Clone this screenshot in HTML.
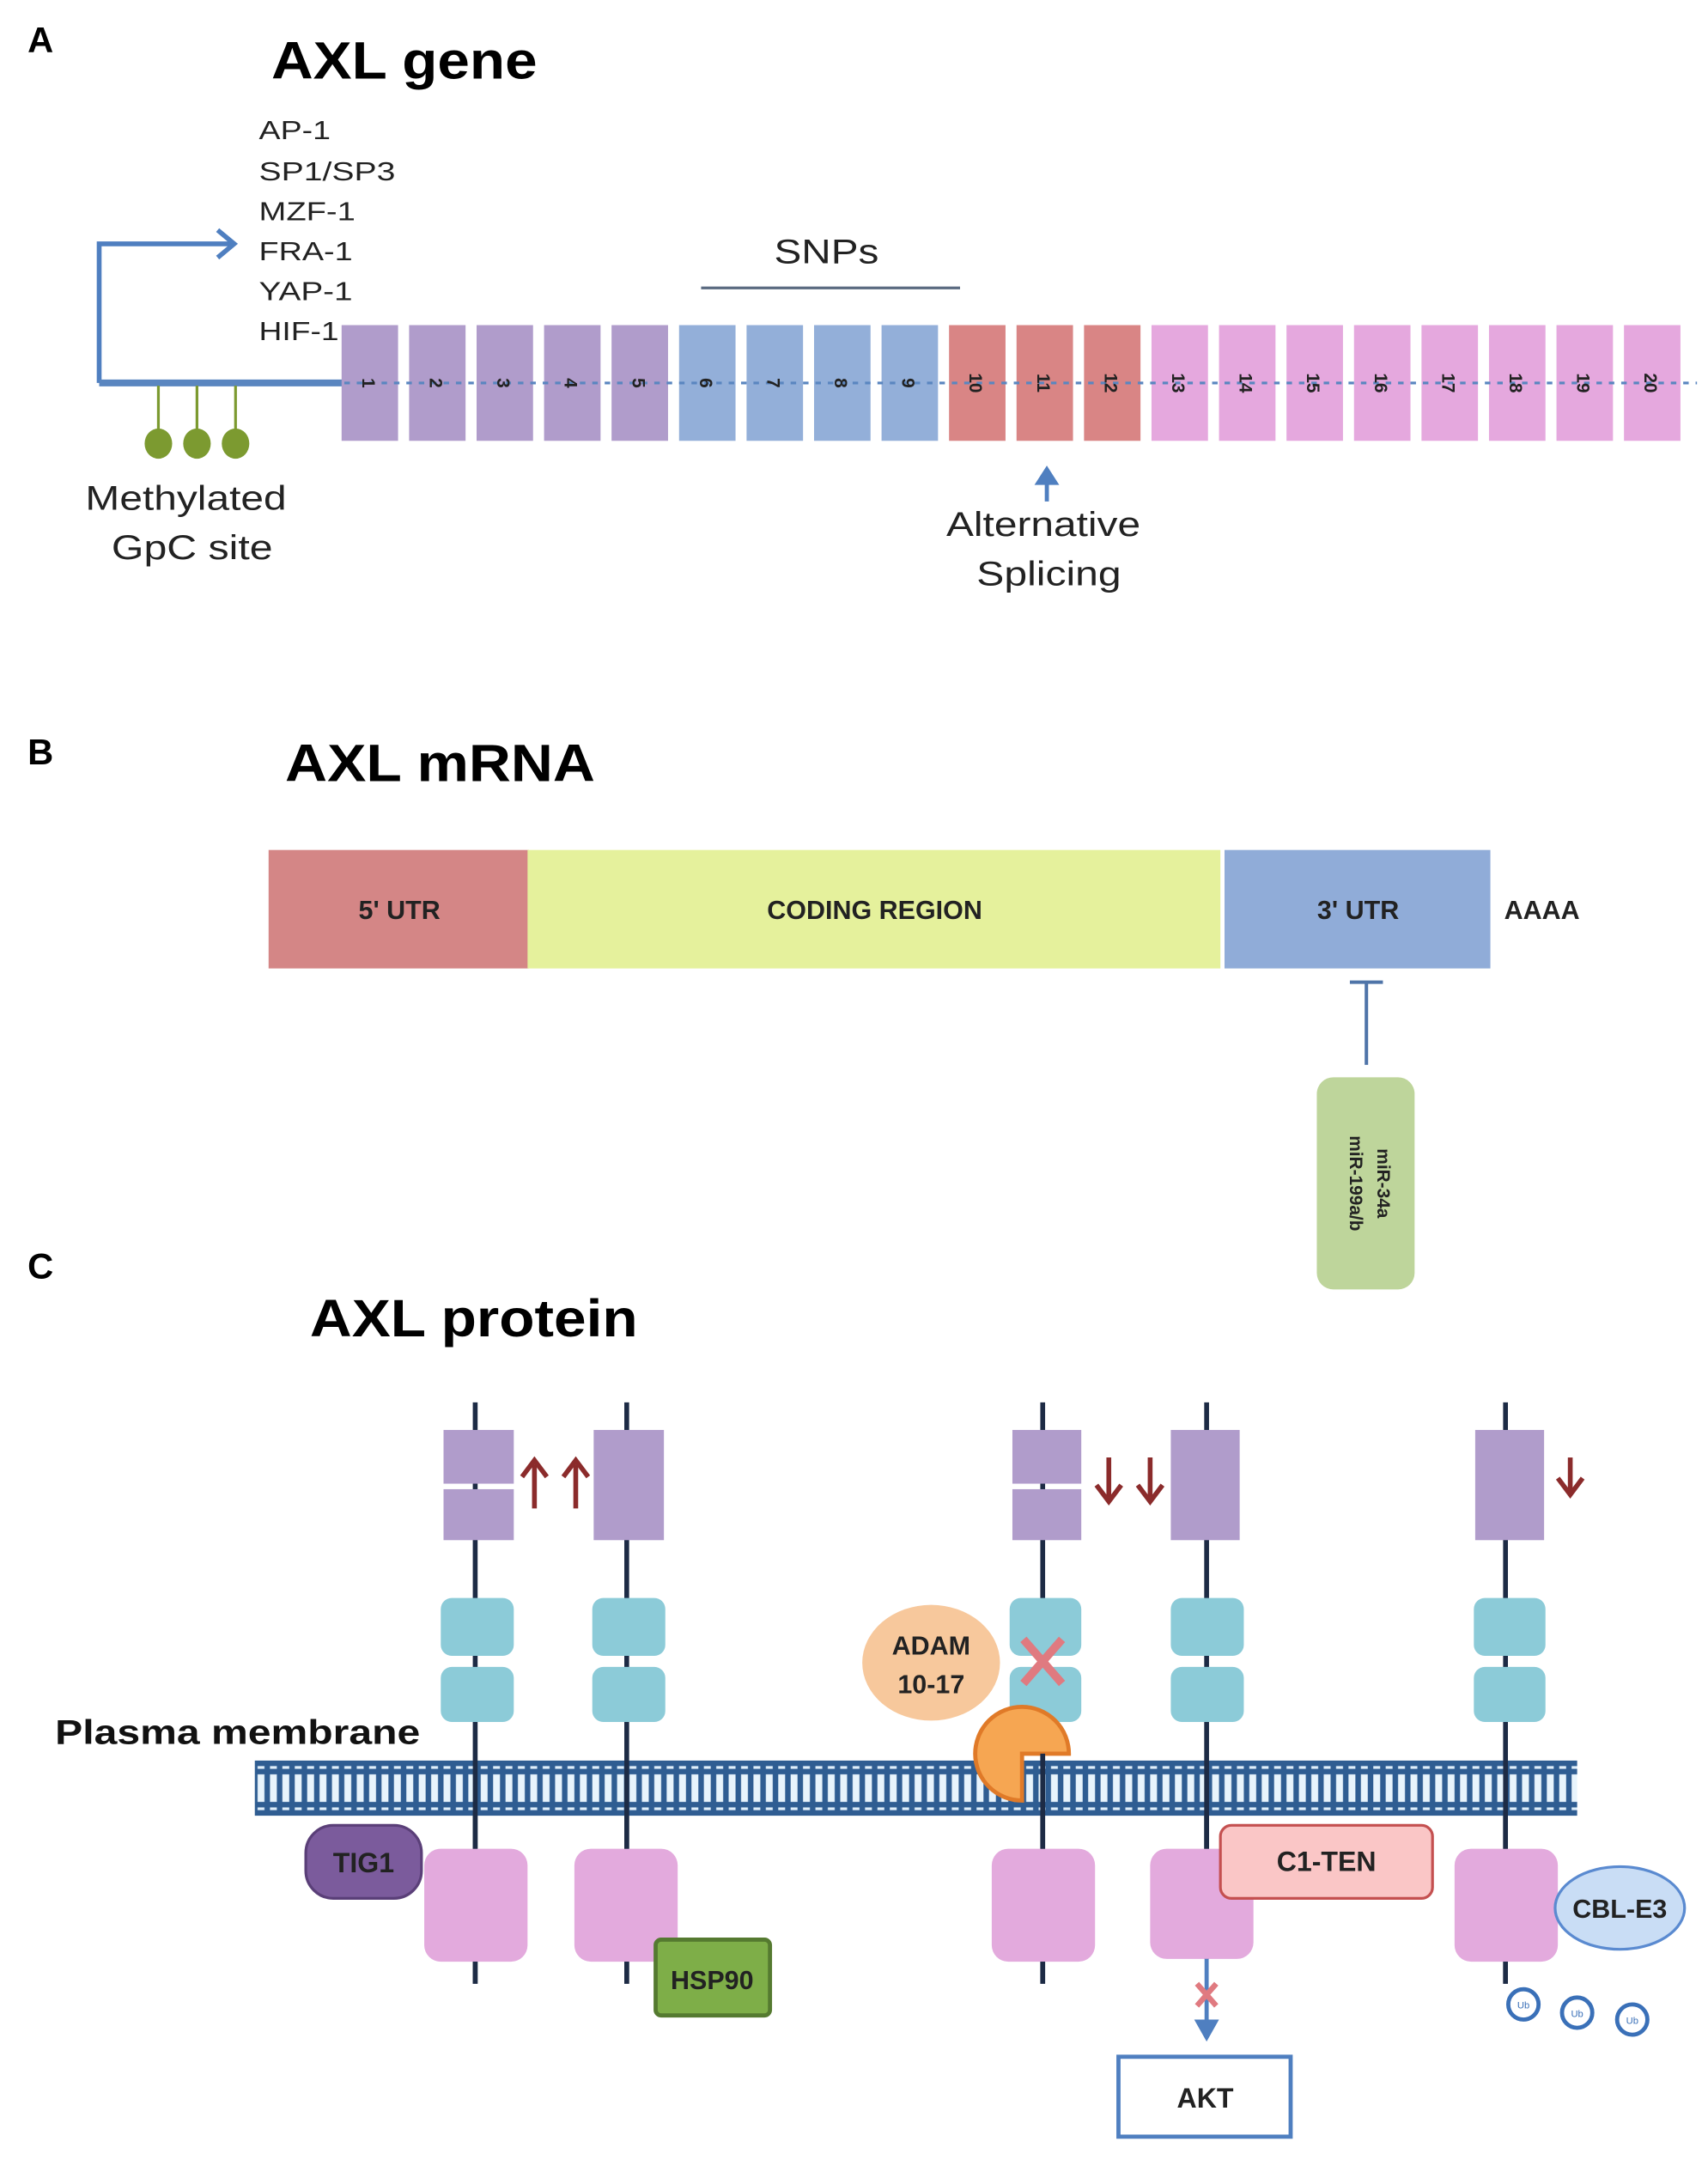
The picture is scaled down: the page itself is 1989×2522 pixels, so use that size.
<!DOCTYPE html>
<html><head><meta charset="utf-8"><style>
html,body{margin:0;padding:0;background:#fff}
svg{display:block}
text{font-family:"Liberation Sans",sans-serif}
</style></head><body>
<svg width="1989" height="2522" viewBox="0 0 1240 1572.3" preserveAspectRatio="none" xmlns="http://www.w3.org/2000/svg">
<defs>
<pattern id="mem" x="185" y="1278" width="9" height="40" patternUnits="userSpaceOnUse">
<rect width="9" height="40" fill="#2f5d92"/>
<rect x="2" y="4" width="5" height="2" fill="#dfeefa"/>
<rect x="2" y="34" width="5" height="2" fill="#dfeefa"/>
<rect x="2" y="10" width="5" height="20" fill="#e8f4fc"/>
</pattern>
</defs>
<!-- A -->
<text x="20" y="38" font-size="26" font-weight="bold">A</text>
<text x="197" y="57" font-size="38" font-weight="bold" textLength="193" lengthAdjust="spacingAndGlyphs">AXL gene</text>
<g font-size="19" fill="#222">
<text x="188" y="101" textLength="52" lengthAdjust="spacingAndGlyphs">AP-1</text>
<text x="188" y="131" textLength="99" lengthAdjust="spacingAndGlyphs">SP1/SP3</text>
<text x="188" y="160" textLength="70" lengthAdjust="spacingAndGlyphs">MZF-1</text>
<text x="188" y="189" textLength="68" lengthAdjust="spacingAndGlyphs">FRA-1</text>
<text x="188" y="218" textLength="68" lengthAdjust="spacingAndGlyphs">YAP-1</text>
<text x="188" y="247" textLength="58" lengthAdjust="spacingAndGlyphs">HIF-1</text>
</g>
<path d="M72 278 V177 H168" fill="none" stroke="#4f7fc0" stroke-width="3.5"/>
<path d="M158 167 L170 177 L158 187" fill="none" stroke="#4f7fc0" stroke-width="3.5"/>
<line x1="72" y1="278" x2="250" y2="278" stroke="#5a86c0" stroke-width="5"/>
<g stroke="#7c9a30" stroke-width="2"><line x1="115" y1="280" x2="115" y2="318"/><line x1="143" y1="280" x2="143" y2="318"/><line x1="171" y1="280" x2="171" y2="318"/></g>
<g fill="#7c9a30"><ellipse cx="115" cy="322" rx="10" ry="11"/><ellipse cx="143" cy="322" rx="10" ry="11"/><ellipse cx="171" cy="322" rx="10" ry="11"/></g>
<text x="62" y="370" font-size="25" fill="#222" textLength="146" lengthAdjust="spacingAndGlyphs">Methylated</text>
<text x="81" y="406" font-size="25" fill="#222" textLength="117" lengthAdjust="spacingAndGlyphs">GpC site</text>
<text x="562" y="191" font-size="25" fill="#222" textLength="76" lengthAdjust="spacingAndGlyphs">SNPs</text>
<line x1="509" y1="209" x2="697" y2="209" stroke="#5a6a80" stroke-width="2"/>
<g>
<rect x="248" y="236" width="41" height="84" fill="#b09ccb"/>
<rect x="297" y="236" width="41" height="84" fill="#b09ccb"/>
<rect x="346" y="236" width="41" height="84" fill="#b09ccb"/>
<rect x="395" y="236" width="41" height="84" fill="#b09ccb"/>
<rect x="444" y="236" width="41" height="84" fill="#b09ccb"/>
<rect x="493" y="236" width="41" height="84" fill="#93afd9"/>
<rect x="542" y="236" width="41" height="84" fill="#93afd9"/>
<rect x="591" y="236" width="41" height="84" fill="#93afd9"/>
<rect x="640" y="236" width="41" height="84" fill="#93afd9"/>
<rect x="689" y="236" width="41" height="84" fill="#d98585"/>
<rect x="738" y="236" width="41" height="84" fill="#d98585"/>
<rect x="787" y="236" width="41" height="84" fill="#d98585"/>
<rect x="836" y="236" width="41" height="84" fill="#e5a8de"/>
<rect x="885" y="236" width="41" height="84" fill="#e5a8de"/>
<rect x="934" y="236" width="41" height="84" fill="#e5a8de"/>
<rect x="983" y="236" width="41" height="84" fill="#e5a8de"/>
<rect x="1032" y="236" width="41" height="84" fill="#e5a8de"/>
<rect x="1081" y="236" width="41" height="84" fill="#e5a8de"/>
<rect x="1130" y="236" width="41" height="84" fill="#e5a8de"/>
<rect x="1179" y="236" width="41" height="84" fill="#e5a8de"/>
</g>
<line x1="250" y1="278" x2="1232" y2="278" stroke="#5a86c0" stroke-width="2" stroke-dasharray="4 5"/>
<g font-size="13" font-weight="bold" fill="#222">
<text transform="translate(263 278) rotate(90)" text-anchor="middle">1</text>
<text transform="translate(312 278) rotate(90)" text-anchor="middle">2</text>
<text transform="translate(361 278) rotate(90)" text-anchor="middle">3</text>
<text transform="translate(410 278) rotate(90)" text-anchor="middle">4</text>
<text transform="translate(459 278) rotate(90)" text-anchor="middle">5</text>
<text transform="translate(508 278) rotate(90)" text-anchor="middle">6</text>
<text transform="translate(557 278) rotate(90)" text-anchor="middle">7</text>
<text transform="translate(606 278) rotate(90)" text-anchor="middle">8</text>
<text transform="translate(655 278) rotate(90)" text-anchor="middle">9</text>
<text transform="translate(704 278) rotate(90)" text-anchor="middle">10</text>
<text transform="translate(753 278) rotate(90)" text-anchor="middle">11</text>
<text transform="translate(802 278) rotate(90)" text-anchor="middle">12</text>
<text transform="translate(851 278) rotate(90)" text-anchor="middle">13</text>
<text transform="translate(900 278) rotate(90)" text-anchor="middle">14</text>
<text transform="translate(949 278) rotate(90)" text-anchor="middle">15</text>
<text transform="translate(998 278) rotate(90)" text-anchor="middle">16</text>
<text transform="translate(1047 278) rotate(90)" text-anchor="middle">17</text>
<text transform="translate(1096 278) rotate(90)" text-anchor="middle">18</text>
<text transform="translate(1145 278) rotate(90)" text-anchor="middle">19</text>
<text transform="translate(1194 278) rotate(90)" text-anchor="middle">20</text>
</g>
<line x1="760" y1="364" x2="760" y2="342" stroke="#4f7fc0" stroke-width="3"/>
<path d="M751 352 L760 338 L769 352" fill="#4f7fc0"/>
<text x="687" y="389" font-size="25" fill="#222" textLength="141" lengthAdjust="spacingAndGlyphs">Alternative</text>
<text x="709" y="425" font-size="25" fill="#222" textLength="105" lengthAdjust="spacingAndGlyphs">Splicing</text>
<!-- B -->
<text x="20" y="555" font-size="26" font-weight="bold">B</text>
<text x="207" y="567" font-size="38" font-weight="bold" textLength="225" lengthAdjust="spacingAndGlyphs">AXL mRNA</text>
<rect x="195" y="617" width="189" height="86" fill="#d48686"/>
<rect x="383" y="617" width="503" height="86" fill="#e5f19c"/>
<rect x="889" y="617" width="193" height="86" fill="#90acd8"/>
<g font-size="19" font-weight="bold" fill="#222" text-anchor="middle">
<text x="290" y="667">5' UTR</text>
<text x="635" y="667">CODING REGION</text>
<text x="986" y="667">3' UTR</text>
</g>
<text x="1092" y="667" font-size="19" font-weight="bold" fill="#222">AAAA</text>
<line x1="992" y1="713" x2="992" y2="773" stroke="#4f74a8" stroke-width="2.5"/>
<line x1="980" y1="713" x2="1004" y2="713" stroke="#4f74a8" stroke-width="2.5"/>
<rect x="956" y="782" width="71" height="154" rx="12" fill="#bed59b"/>
<g font-size="13" font-weight="bold" fill="#222">
<text transform="translate(1000 859) rotate(90)" text-anchor="middle">miR-34a</text>
<text transform="translate(980 859) rotate(90)" text-anchor="middle">miR-199a/b</text>
</g>
<!-- C -->
<text x="20" y="928" font-size="26" font-weight="bold">C</text>
<text x="225" y="970" font-size="38" font-weight="bold" textLength="238" lengthAdjust="spacingAndGlyphs">AXL protein</text>
<text x="40" y="1266" font-size="25" font-weight="bold" fill="#111" textLength="265" lengthAdjust="spacingAndGlyphs">Plasma membrane</text>
<g stroke="#1d2b45" stroke-width="3.5">
<line x1="345" y1="1018" x2="345" y2="1440"/>
<line x1="455" y1="1018" x2="455" y2="1440"/>
<line x1="757" y1="1018" x2="757" y2="1440"/>
<line x1="876" y1="1018" x2="876" y2="1422"/>
<line x1="1093" y1="1018" x2="1093" y2="1440"/>
</g>
<g fill="#b09ccb">
<rect x="322" y="1038" width="51" height="39"/><rect x="322" y="1081" width="51" height="37"/>
<rect x="431" y="1038" width="51" height="80"/>
<rect x="735" y="1038" width="50" height="39"/><rect x="735" y="1081" width="50" height="37"/>
<rect x="850" y="1038" width="50" height="80"/>
<rect x="1071" y="1038" width="50" height="80"/>
</g>
<g fill="#8ccbd8">
<rect x="320" y="1160" width="53" height="42" rx="8"/><rect x="320" y="1210" width="53" height="40" rx="8"/>
<rect x="430" y="1160" width="53" height="42" rx="8"/><rect x="430" y="1210" width="53" height="40" rx="8"/>
<rect x="733" y="1160" width="52" height="42" rx="8"/><rect x="733" y="1210" width="52" height="40" rx="8"/>
<rect x="850" y="1160" width="53" height="42" rx="8"/><rect x="850" y="1210" width="53" height="40" rx="8"/>
<rect x="1070" y="1160" width="52" height="42" rx="8"/><rect x="1070" y="1210" width="52" height="40" rx="8"/>
</g>
<g stroke="#8b2b2b" stroke-width="3.5" fill="none">
<line x1="388" y1="1095" x2="388" y2="1063"/><path d="M379 1072 L388 1060 L397 1072"/>
<line x1="418" y1="1095" x2="418" y2="1063"/><path d="M409 1072 L418 1060 L427 1072"/>
<line x1="805" y1="1058" x2="805" y2="1087"/><path d="M796 1078 L805 1090 L814 1078"/>
<line x1="835" y1="1058" x2="835" y2="1087"/><path d="M826 1078 L835 1090 L844 1078"/>
<line x1="1140" y1="1058" x2="1140" y2="1082"/><path d="M1131 1073 L1140 1085 L1149 1073"/>
</g>
<g stroke="#e07a80" stroke-width="6"><line x1="743" y1="1190" x2="771" y2="1222"/><line x1="771" y1="1190" x2="743" y2="1222"/></g>
<ellipse cx="676" cy="1207" rx="50" ry="42" fill="#f7c89c"/>
<text x="676" y="1201" font-size="19" font-weight="bold" text-anchor="middle" fill="#222">ADAM</text>
<text x="676" y="1229" font-size="19" font-weight="bold" text-anchor="middle" fill="#222">10-17</text>
<rect x="185" y="1278" width="960" height="40" fill="url(#mem)"/>
<g stroke="#1d2b45" stroke-width="3.5">
<line x1="345" y1="1278" x2="345" y2="1320"/><line x1="455" y1="1278" x2="455" y2="1320"/>
<line x1="876" y1="1278" x2="876" y2="1320"/><line x1="1093" y1="1278" x2="1093" y2="1320"/>
</g>
<path d="M742 1273 L776 1273 A34 34 0 1 1 742 1239 Z" fill="#f6a652" stroke="#e07a28" stroke-width="3" transform="rotate(90 742 1273)"/>
<path d="M757 1273 V1320" stroke="#1d2b45" stroke-width="3.5"/>
<g fill="#e3aadd">
<rect x="308" y="1342" width="75" height="82" rx="12"/>
<rect x="417" y="1342" width="75" height="82" rx="12"/>
<rect x="720" y="1342" width="75" height="82" rx="12"/>
<rect x="835" y="1342" width="75" height="80" rx="12"/>
<rect x="1056" y="1342" width="75" height="82" rx="12"/>
</g>
<g stroke="#1d2b45" stroke-width="3.5">
<line x1="345" y1="1320" x2="345" y2="1342"/><line x1="455" y1="1320" x2="455" y2="1342"/>
<line x1="757" y1="1320" x2="757" y2="1342"/><line x1="876" y1="1320" x2="876" y2="1342"/>
<line x1="1093" y1="1320" x2="1093" y2="1342"/>
<line x1="345" y1="1424" x2="345" y2="1440"/><line x1="455" y1="1424" x2="455" y2="1440"/>
<line x1="757" y1="1424" x2="757" y2="1440"/><line x1="1093" y1="1424" x2="1093" y2="1440"/>
</g>
<rect x="222" y="1325" width="84" height="53" rx="20" fill="#7b5b9c" stroke="#5a3f78" stroke-width="2"/>
<text x="264" y="1359" font-size="20" font-weight="bold" text-anchor="middle" fill="#222">TIG1</text>
<rect x="476" y="1408" width="83" height="55" rx="4" fill="#7eae48" stroke="#557a30" stroke-width="3"/>
<text x="517" y="1444" font-size="19" font-weight="bold" text-anchor="middle" fill="#222">HSP90</text>
<rect x="886" y="1325" width="154" height="53" rx="8" fill="#fac6c6" stroke="#c45050" stroke-width="2"/>
<text x="963" y="1358" font-size="20" font-weight="bold" text-anchor="middle" fill="#222">C1-TEN</text>
<ellipse cx="1176" cy="1385" rx="47" ry="30" fill="#c9ddf5" stroke="#5a8ad0" stroke-width="2"/>
<text x="1176" y="1392" font-size="19" font-weight="bold" text-anchor="middle" fill="#222">CBL-E3</text>
<g fill="#fff" stroke="#3a70b8" stroke-width="3">
<circle cx="1106" cy="1455" r="11"/><circle cx="1145" cy="1461" r="11"/><circle cx="1185" cy="1466" r="11"/>
</g>
<g font-size="7" text-anchor="middle" fill="#3a70b8"><text x="1106" y="1458">Ub</text><text x="1145" y="1464">Ub</text><text x="1185" y="1469">Ub</text></g>
<line x1="876" y1="1422" x2="876" y2="1472" stroke="#4f7fc0" stroke-width="3"/>
<path d="M867 1466 L876 1482 L885 1466 Z" fill="#4f7fc0"/>
<g stroke="#e07a80" stroke-width="4"><line x1="869" y1="1440" x2="883" y2="1456"/><line x1="883" y1="1440" x2="869" y2="1456"/></g>
<rect x="812" y="1493" width="125" height="58" fill="#fff" stroke="#4f7fc0" stroke-width="3"/>
<text x="875" y="1530" font-size="20" font-weight="bold" text-anchor="middle" fill="#222">AKT</text>
</svg>
</body></html>
